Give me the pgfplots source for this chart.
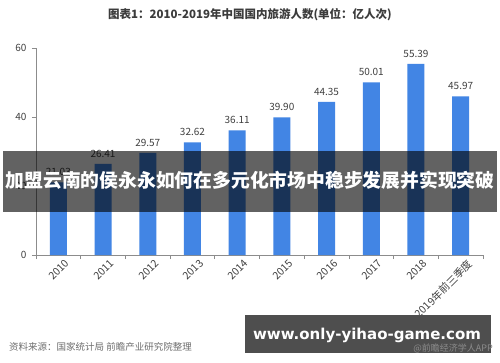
\documentclass[border=0pt]{standalone}
\usepackage{pgfplots}
\pgfplotsset{compat=1.18}
\usepackage{fontspec}
\setmainfont{Noto Sans CJK SC}
\newfontfamily\webfont{DejaVu Sans}
\definecolor{barblue}{RGB}{66,133,228}
\definecolor{titlegray}{RGB}{60,60,60}
\definecolor{labgray}{RGB}{64,64,64}
\definecolor{axgray}{RGB}{140,140,140}
\definecolor{srcgray}{RGB}{110,110,110}
\definecolor{boxgray}{RGB}{78,78,78}
\begin{document}
\begin{tikzpicture}[x=1pt,y=1pt]
\fill[white] (0,0) rectangle (500,362);
\path[use as bounding box] (0,0) rectangle (500,362);
\node[font=\bfseries\fontsize{11.5}{13}\selectfont, text=titlegray] at (250,347) {图表1：2010-2019年中国国内旅游人数(单位：亿人次)};
\begin{axis}[
  at={(36pt,107pt)}, anchor=south west, scale only axis,
  width=447pt, height=207pt,
  xmin=-0.5, xmax=9.5, ymin=0, ymax=60,
  axis x line*=bottom, axis y line*=left,
  axis line style={draw=axgray, line width=0.8pt},
  tick style={draw=axgray, line width=0.8pt},
  tick align=outside, major tick length=4pt,
  ytick={0,20,40,60},
  yticklabel style={font=\fontsize{10}{12}\selectfont, text=labgray, xshift=-2pt},
  /pgf/number format/assume math mode=true,
  xtick={-0.5,0.5,...,9.5},
  xticklabels={},
  extra x ticks={0,1,2,3,4,5,6,7,8,9},
  extra x tick labels={2010,2011,2012,2013,2014,2015,2016,2017,2018,2019年前三季度},
  extra x tick style={major tick length=0pt,
    xticklabel style={rotate=45, anchor=north east, font=\fontsize{10.5}{12}\selectfont, text=labgray, inner sep=1pt, yshift=-6pt, xshift=3pt}},
  clip=false,
]
\addplot[ybar, bar width=17pt, fill=barblue, draw=none,
  nodes near coords,
  nodes near coords style={font=\fontsize{10}{12}\selectfont, text=labgray, yshift=3pt,
    /pgf/number format/.cd, fixed, fixed zerofill, precision=2, assume math mode=true},
] coordinates {
 (0,21.03) (1,26.41) (2,29.57) (3,32.62) (4,36.11)
 (5,39.90) (6,44.35) (7,50.01) (8,55.39) (9,45.97)
};
\end{axis}
% overlay banner
\fill[black, opacity=0.615] (3,150) rectangle (497,211);
\node[text=white, font=\bfseries\fontsize{18.8}{21}\selectfont, inner sep=0pt] at (250,182) {加盟云南的侯永永如何在多元化市场中稳步发展并实现突破};
% source
\node[anchor=west, text=srcgray, font=\fontsize{9.5}{11}\selectfont, inner sep=0pt] at (9,15) {资料来源：国家统计局 前瞻产业研究院整理};
% website box
\fill[boxgray] (245,9) rectangle (491,47);
\node[text=white, font=\webfont\bfseries\fontsize{15}{17}\selectfont, inner sep=0pt] at (367,27) {www.only-yihao-game.com};
\node[anchor=east, text=axgray, font=\fontsize{9}{10}\selectfont, inner sep=0pt] at (493,14) {@前瞻经济学人APP};
\end{tikzpicture}
\end{document}
